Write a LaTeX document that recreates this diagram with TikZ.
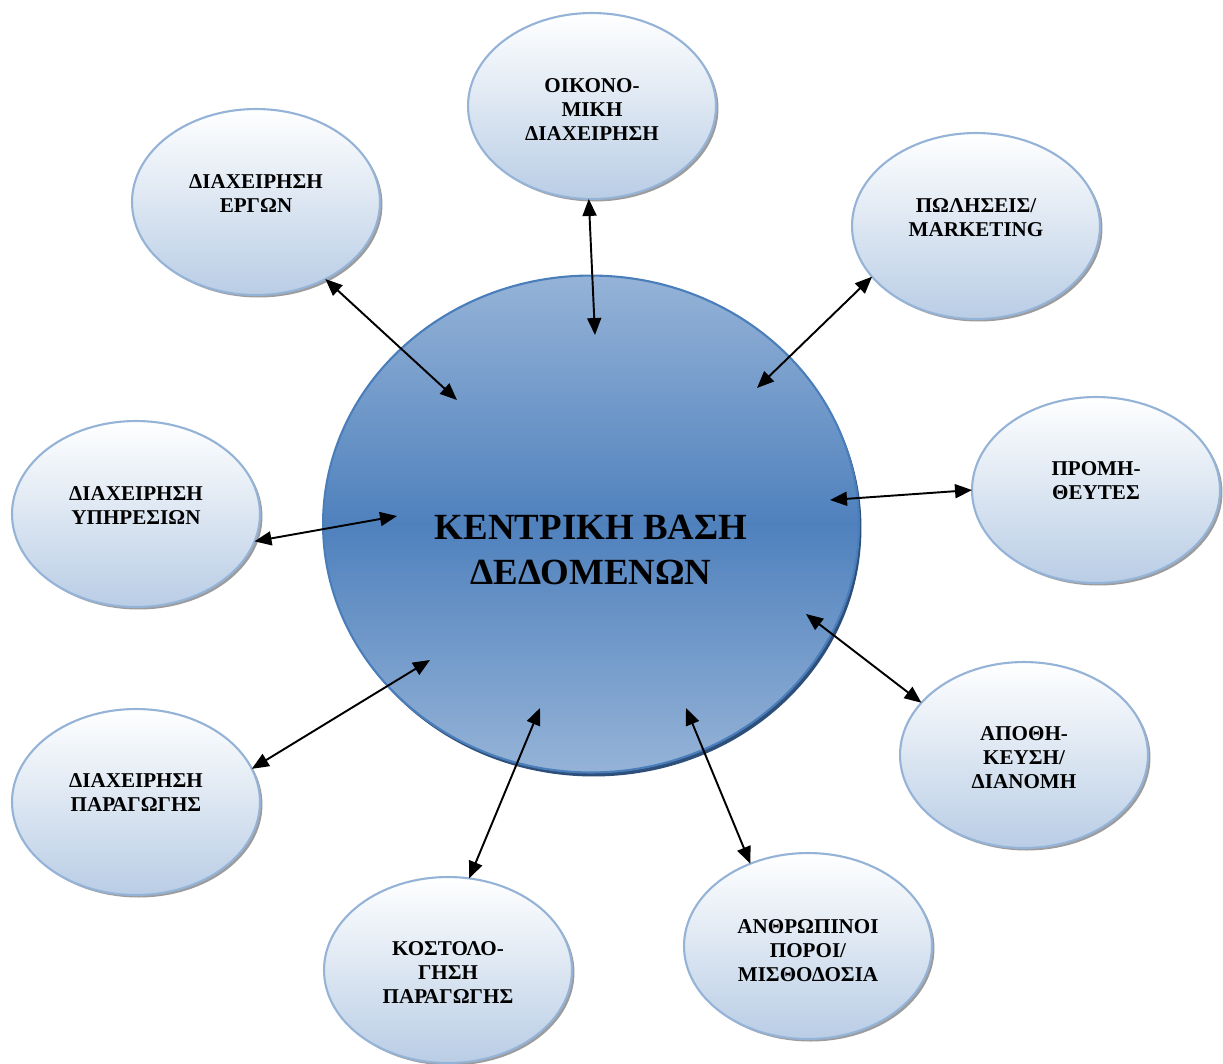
\documentclass[tikz,border=0pt]{standalone}
\usepackage{fontspec}
\setmainfont{Liberation Serif}
\usetikzlibrary{shapes.geometric,shadows,arrows.meta}

\definecolor{dbtop}{HTML}{95B3D7}
\definecolor{dbmid}{HTML}{4F81BD}
\definecolor{dbline}{HTML}{4A7EBB}
\definecolor{dbshade}{HTML}{2E4F7A}
\definecolor{bubbleline}{HTML}{95B3D7}
\definecolor{bubblelow}{HTML}{B9CDE5}
\definecolor{bubbleshade}{HTML}{9C9C9C}

\tikzset{
  bubble/.style={ellipse, draw=bubbleline, line width=1.2pt, top color=white, bottom color=bubblelow,
    minimum width=4.96cm, minimum height=3.72cm, inner sep=0pt, outer sep=0pt,
    drop shadow={shadow xshift=0.05cm, shadow yshift=-0.05cm, fill=bubbleshade, opacity=1}},
  bubbletext/.style={anchor=north, align=center, inner sep=0pt, font=\fontsize{12}{13.7}\selectfont\bfseries},
  db/.style={ellipse, draw=dbline, line width=1.2pt, top color=dbtop, bottom color=dbtop, middle color=dbmid,
    minimum width=10.72cm, minimum height=9.94cm, inner sep=0pt, outer sep=0pt,
    drop shadow={shadow xshift=0.05cm, shadow yshift=-0.08cm, fill=dbshade, opacity=1}},
  link/.style={{Triangle[length=0.34cm,width=0.28cm]}-{Triangle[length=0.34cm,width=0.28cm]}, line width=1.1pt},
}

\begin{document}
\begin{tikzpicture}[x=0.02cm, y=-0.02cm]
  \useasboundingbox (0,0) rectangle (1223,1063);

  % Central database
  \node[db] (db) at (591,524) {};
  \node[bubbletext, font=\fontsize{21}{25.2}\selectfont\bfseries] (db-txt) at (591,515) {ΚΕΝΤΡΙΚΗ ΒΑΣΗ\\ΔΕΔΟΜΕΝΩΝ};

  % Departments
  \node[bubble] (fin) at (592,106) {};
  \node[bubbletext] (fin-txt) at (592,78) {ΟΙΚΟΝΟ-\\ΜΙΚΗ\\ΔΙΑΧΕΙΡΗΣΗ};
  \node[bubble] (erga) at (256,202) {};
  \node[bubbletext] (erga-txt) at (256,174) {ΔΙΑΧΕΙΡΗΣΗ\\ΕΡΓΩΝ};
  \node[bubble] (sales) at (976,226) {};
  \node[bubbletext] (sales-txt) at (976,198) {ΠΩΛΗΣΕΙΣ/\\MARKETING};
  \node[bubble] (prom) at (1096,490) {};
  \node[bubbletext] (prom-txt) at (1096,461) {ΠΡΟΜΗ-\\ΘΕΥΤΕΣ};
  \node[bubble] (ypir) at (136,514) {};
  \node[bubbletext] (ypir-txt) at (136,486) {ΔΙΑΧΕΙΡΗΣΗ\\ΥΠΗΡΕΣΙΩΝ};
  \node[bubble] (apoth) at (1024,755) {};
  \node[bubbletext] (apoth-txt) at (1024,726) {ΑΠΟΘΗ-\\ΚΕΥΣΗ/\\ΔΙΑΝΟΜΗ};
  \node[bubble] (parag) at (136,802) {};
  \node[bubbletext] (parag-txt) at (136,773) {ΔΙΑΧΕΙΡΗΣΗ\\ΠΑΡΑΓΩΓΗΣ};
  \node[bubble] (kost) at (448,970) {};
  \node[bubbletext] (kost-txt) at (448,941) {ΚΟΣΤΟΛΟ-\\ΓΗΣΗ\\ΠΑΡΑΓΩΓΗΣ};
  \node[bubble] (anthr) at (808,946) {};
  \node[bubbletext] (anthr-txt) at (808,919) {ΑΝΘΡΩΠΙΝΟΙ\\ΠΟΡΟΙ/\\ΜΙΣΘΟΔΟΣΙΑ};

  % Arrow ends inside the database
  \coordinate (in-fin) at (595,335);
  \coordinate (in-erga) at (457,400);
  \coordinate (in-sales) at (757,388);
  \coordinate (in-prom) at (830,500);
  \coordinate (in-ypir) at (397,516);
  \coordinate (in-apoth) at (806,614);
  \coordinate (in-parag) at (430,660);
  \coordinate (in-kost) at (540,708);
  \coordinate (in-anthr) at (686,708);

  % Links
  \draw[link] (fin.268) -- (in-fin);
  \draw[link] (erga.312) -- (in-erga);
  \draw[link] (sales.206) -- (in-sales);
  \draw[link] (prom.180) -- (in-prom);
  \draw[link] (ypir.347) -- (in-ypir);
  \draw[link] (apoth.153) -- (in-apoth);
  \draw[link] (parag.16) -- (in-parag);
  \draw[link] (kost.77) -- (in-kost);
  \draw[link] (anthr.125) -- (in-anthr);
\end{tikzpicture}
\end{document}
